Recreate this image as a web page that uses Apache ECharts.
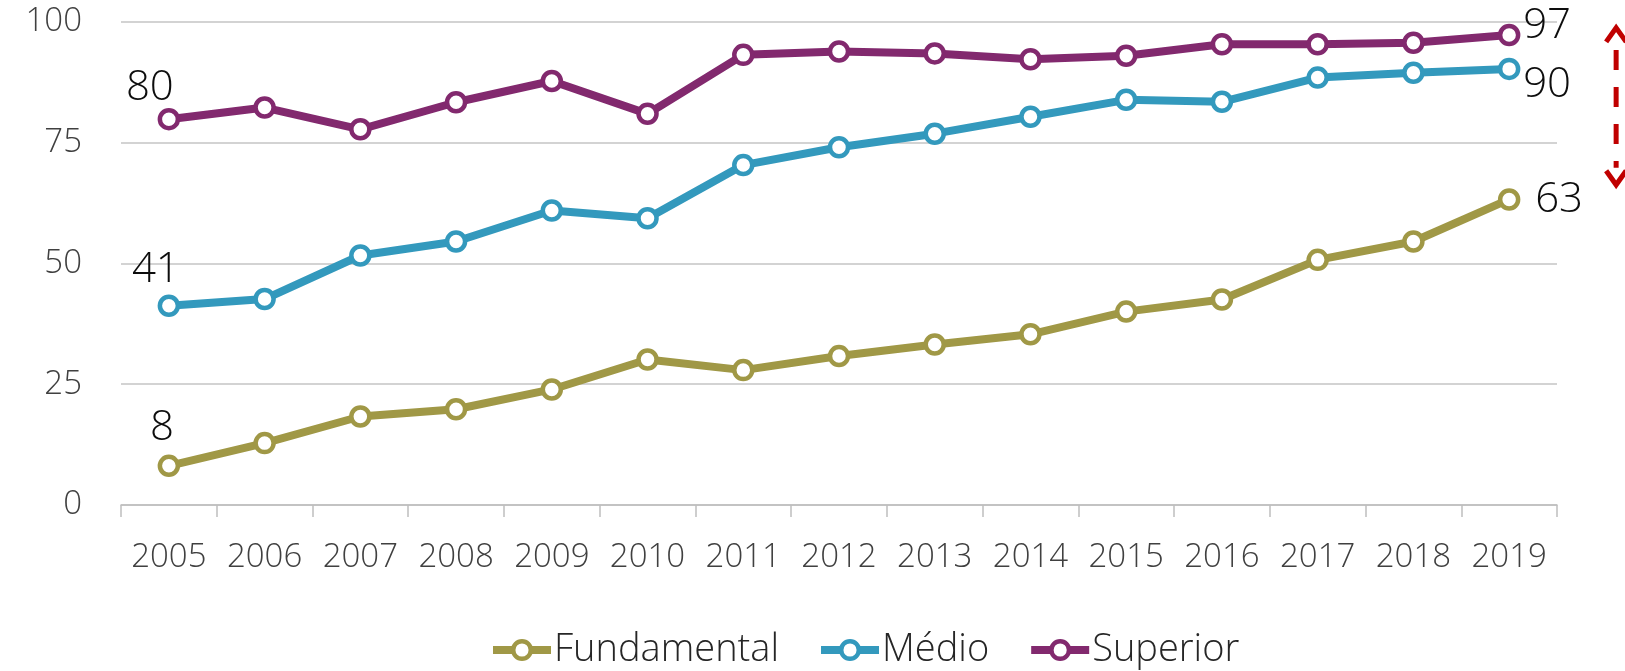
<!DOCTYPE html>
<html>
<head>
<meta charset="utf-8">
<script src="https://cdn.jsdelivr.net/npm/echarts@6/dist/echarts.min.js"></script>
<style>
  html, body { margin: 0; padding: 0; background: #fff; }
  #chart { width: 1625px; height: 671px; }
</style>
</head>
<body>
<div id="chart"></div>
<script>
const years = ['2005', '2006', '2007', '2008', '2009', '2010', '2011', '2012', '2013', '2014', '2015', '2016', '2017', '2018', '2019']
const fundamental = [8.1, 12.8, 18.3, 19.8, 23.9, 30.1, 27.9, 30.8, 33.2, 35.3, 40.0, 42.5, 50.7, 54.5, 63.2]
const medio = [41.2, 42.6, 51.6, 54.5, 60.9, 59.3, 70.3, 74.0, 76.8, 80.3, 83.8, 83.4, 88.4, 89.4, 90.2]
const superior = [79.8, 82.2, 77.7, 83.3, 87.7, 80.9, 93.1, 93.8, 93.4, 92.2, 92.9, 95.3, 95.3, 95.6, 97.2]
const yTicks = [0, 25, 50, 75, 100]
// texto dos rótulos (primeiro e último ponto)
const firstLabels = { Fundamental: '8', 'Médio': '41', Superior: '80' }
const lastLabels = { Fundamental: '63', 'Médio': '90', Superior: '97' }

const FONT = '"Open Sans", "Noto Sans", sans-serif'
const chart = echarts.init(document.getElementById('chart'))

// rótulo só no primeiro e no último ponto
function makeSeries(name, data, color, firstOff, lastOff) {
  return {
    name,
    type: 'line',
    data: data.map((v, i) => {
      if (i === 0) {
        return { value: v, label: { show: true, formatter: firstLabels[name], position: 'inside', align: 'center', offset: firstOff } }
      }
      if (i === data.length - 1) {
        return { value: v, label: { show: true, formatter: lastLabels[name], position: 'inside', align: 'left', offset: lastOff } }
      }
      return v
    }),
    symbol: 'circle',
    symbolSize: 18,
    showAllSymbol: true,
    lineStyle: { width: 8, color },
    itemStyle: { color: '#fff', borderColor: color, borderWidth: 4.5 },
    label: { show: false, color: '#0d0d0d', fontFamily: FONT, fontWeight: 300, fontSize: 42, verticalAlign: 'middle' },
    emphasis: { disabled: true },
    z: 2,
  }
}

chart.setOption({
  animation: false,
  backgroundColor: '#fff',
  grid: { left: 121, right: 68, top: 21.5, bottom: 166 },
  legend: {
    left: 484, top: 626,
    itemWidth: 58, itemHeight: 22, itemGap: 38,
    lineStyle: { width: 8 },
    itemStyle: { borderWidth: 4.5 },
    textStyle: { color: '#262626', fontFamily: FONT, fontWeight: 300, fontSize: 38, padding: [0, 0, 0, -2] },
    data: ['Fundamental', 'Médio', 'Superior'],
  },
  xAxis: {
    type: 'category',
    data: years,
    boundaryGap: true,
    axisLine: { lineStyle: { color: '#bfbfbf', width: 1.5 } },
    axisTick: { show: true, length: 12, interval: 0, lineStyle: { color: '#bfbfbf', width: 1.5 } },
    axisLabel: { interval: 0, color: '#404040', fontFamily: FONT, fontWeight: 300, fontSize: 33, margin: 36 },
  },
  yAxis: {
    type: 'value',
    min: yTicks[0], max: yTicks[yTicks.length - 1], interval: 25,
    axisLine: { show: false },
    axisTick: { show: false },
    axisLabel: { color: '#404040', fontFamily: FONT, fontWeight: 300, fontSize: 33, margin: 39 },
    splitLine: { lineStyle: { color: '#c4c4c4', width: 1.5 } },
  },
  series: [
    makeSeries('Fundamental', fundamental, '#a09846', [-7, -38], [26, 1]),
    makeSeries('Médio', medio, '#3399bd', [-13, -36], [14, 16]),
    makeSeries('Superior', superior, '#82296e', [-19, -31], [14, -9]),
  ],
})

// seta tracejada vermelha à direita (anotação)
const xArrow = chart.convertToPixel({ xAxisIndex: 0 }, years[years.length - 1]) + 107
const yTop = chart.convertToPixel({ yAxisIndex: 0 }, 99.3)
const yBot = chart.convertToPixel({ yAxisIndex: 0 }, 65.6)
const red = '#c00000'
chart.setOption({
  graphic: [
    { type: 'line', shape: { x1: xArrow, y1: yTop + 25, x2: xArrow, y2: yBot - 20 },
      style: { stroke: red, lineWidth: 5, lineDash: [20, 17] } },
    { type: 'polyline', shape: { points: [[xArrow - 10, yTop + 17], [xArrow, yTop + 3], [xArrow + 10, yTop + 17]] },
      style: { stroke: red, lineWidth: 5, fill: null } },
    { type: 'polyline', shape: { points: [[xArrow - 10, yBot - 17], [xArrow, yBot - 3], [xArrow + 10, yBot - 17]] },
      style: { stroke: red, lineWidth: 5, fill: null } },
  ],
})
</script>
</body>
</html>
